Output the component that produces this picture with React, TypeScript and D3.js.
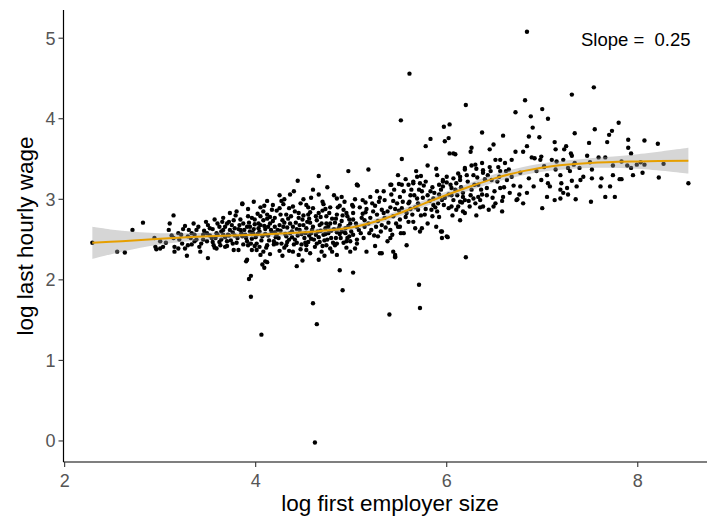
import * as d3 from "d3";

type Pt = [number, number];

// log first employer size, log last hourly wage
const outliers: Pt[] = [
  [3.5, 2.27], [3.9, 2.23], [3.95, 2.05], [3.93, 2.01], [3.95, 1.79], [4.06, 1.32], [4.07, 2.19],
  [4.09, 2.15], [4.12, 2.22], [4.43, 2.17], [4.49, 2.24], [4.66, 2.25], [4.6, 1.71], [4.64, 1.45],
  [4.62, -0.02], [4.88, 2.12], [4.91, 1.87], [5.02, 2.09], [5.4, 1.57], [5.46, 2.28], [5.71, 1.94],
  [5.72, 1.65], [6.2, 2.28], [6.84, 5.08], [5.61, 4.56], [6.2, 4.17], [5.52, 3.98], [5.97, 3.9],
  [6.03, 3.93], [6.82, 4.23], [6.72, 4.08], [6.88, 4.03], [7.0, 4.12], [7.06, 4.0], [7.31, 4.3],
  [7.54, 4.39], [7.8, 3.95], [8.53, 3.2], [2.29, 2.46], [2.55, 2.35], [2.63, 2.34], [2.71, 2.62],
  [2.82, 2.71], [5.3, 2.33], [5.46, 2.31], [5.72, 2.6], [5.95, 2.52], [5.89, 2.66],
];

const leftCloud: Pt[] = [
  [2.94, 2.52], [2.95, 2.41], [2.96, 2.38], [3.0, 2.48], [3.03, 2.41], [3.09, 2.62], [3.1, 2.7],
  [3.14, 2.8], [3.14, 2.52], [3.15, 2.41], [3.15, 2.35], [3.19, 2.58], [3.23, 2.45], [3.26, 2.67],
  [3.28, 2.3], [3.29, 2.43], [3.33, 2.58], [3.36, 2.48], [3.38, 2.62], [3.41, 2.41], [3.45, 2.56],
  [3.49, 2.48], [3.52, 2.64], [3.56, 2.43], [3.57, 2.75], [3.59, 2.58], [3.62, 2.66], [3.64, 2.5],
  [3.66, 2.77], [3.68, 2.41], [3.7, 2.7], [3.71, 2.56], [3.73, 2.83], [3.76, 2.45], [3.78, 2.64],
  [3.8, 2.85], [3.82, 2.37], [3.84, 2.75], [3.86, 2.94], [3.86, 2.54], [3.91, 2.66], [3.92, 2.43],
  [3.96, 2.77], [3.97, 2.58], [4.01, 2.37], [4.03, 2.7], [3.77, 2.37], [3.59, 2.39], [3.42, 2.35],
  [3.19, 2.39], [3.63, 2.43], [3.66, 2.56], [3.49, 2.58], [3.38, 2.5], [3.29, 2.54], [3.54, 2.52],
  [3.7, 2.48], [3.84, 2.62], [3.73, 2.62], [3.26, 2.39], [3.0, 2.39], [3.6, 2.7], [3.62, 2.47],
  [3.66, 2.62], [3.68, 2.53], [3.72, 2.72], [3.74, 2.49], [3.76, 2.59], [3.79, 2.8], [3.81, 2.52],
  [3.83, 2.68], [3.4, 2.66], [3.43, 2.45], [3.46, 2.61], [3.48, 2.72], [3.52, 2.55], [3.55, 2.63],
  [3.57, 2.4], [3.3, 2.62], [3.33, 2.44], [3.35, 2.7], [3.2, 2.5], [3.24, 2.63], [3.12, 2.55],
  [3.06, 2.46], [3.45, 2.5], [3.5, 2.68], [3.58, 2.52], [3.64, 2.6], [3.7, 2.42], [3.75, 2.68],
  [3.78, 2.55], [3.8, 2.46], [3.85, 2.58], [3.87, 2.44], [3.65, 2.72], [3.55, 2.47], [3.6, 2.56],
  [3.68, 2.66], [3.72, 2.55], [3.82, 2.63], [3.77, 2.74], [3.36, 2.56], [3.32, 2.52], [3.22, 2.56],
];

const coreCloud: Pt[] = [
  [4.66, 3.29], [4.44, 3.23], [4.97, 3.35], [5.06, 3.18], [3.86, 2.95], [4.36, 3.06], [4.5, 3.0],
  [4.66, 3.06], [4.85, 3.01], [4.9, 3.03], [4.29, 2.94], [4.39, 2.91], [4.25, 2.89], [4.17, 2.87],
  [4.08, 2.85], [4.12, 2.81], [4.05, 2.79], [4.53, 2.93], [4.6, 2.89], [4.71, 2.94], [4.78, 2.9],
  [4.88, 2.92], [5.02, 2.91], [3.92, 2.79], [3.99, 2.75], [3.87, 2.7], [4.2, 2.77], [4.32, 2.81],
  [4.45, 2.83], [4.55, 2.81], [4.66, 2.83], [4.74, 2.79], [4.85, 2.81], [4.95, 2.83], [3.94, 2.66],
  [4.05, 2.68], [4.15, 2.7], [4.25, 2.68], [4.36, 2.7], [4.46, 2.68], [4.57, 2.71], [4.67, 2.68],
  [4.78, 2.7], [4.88, 2.68], [4.99, 2.7], [3.89, 2.56], [3.97, 2.58], [4.1, 2.57], [4.22, 2.56],
  [4.52, 2.58], [4.73, 2.57], [4.94, 2.58], [3.91, 2.48], [4.01, 2.45], [4.12, 2.43], [4.22, 2.45],
  [4.32, 2.43], [4.43, 2.46], [4.53, 2.43], [4.64, 2.45], [4.74, 2.43], [4.85, 2.45], [4.95, 2.48],
  [5.06, 2.5], [3.96, 2.37], [4.08, 2.35], [4.25, 2.36], [4.39, 2.35], [4.53, 2.37], [4.69, 2.35],
  [4.85, 2.31], [4.99, 2.35], [3.91, 2.25], [4.1, 2.23], [3.88, 2.62], [3.9, 2.52], [3.93, 2.71],
  [3.95, 2.45], [3.98, 2.63], [4.0, 2.53], [4.02, 2.82], [4.04, 2.6], [4.06, 2.49], [4.08, 2.74],
  [4.1, 2.63], [4.11, 2.4], [4.13, 2.55], [4.15, 2.78], [4.17, 2.59], [4.19, 2.48], [4.2, 2.66],
  [4.22, 2.86], [4.24, 2.52], [4.26, 2.61], [4.28, 2.74], [4.3, 2.4], [4.31, 2.57], [4.33, 2.65],
  [4.35, 2.5], [4.37, 2.79], [4.38, 2.6], [4.4, 2.44], [4.42, 2.71], [4.44, 2.55], [4.46, 2.62],
  [4.47, 2.38], [4.49, 2.75], [4.51, 2.52], [4.53, 2.64], [4.55, 2.47], [4.57, 2.84], [4.58, 2.58],
  [4.6, 2.66], [4.62, 2.41], [4.64, 2.74], [4.66, 2.53], [4.68, 2.61], [4.7, 2.86], [4.72, 2.49],
  [4.74, 2.7], [4.76, 2.58], [4.78, 2.39], [4.8, 2.76], [4.82, 2.63], [4.84, 2.52], [4.86, 2.9],
  [4.88, 2.57], [4.9, 2.73], [4.92, 2.46], [4.94, 2.64], [4.96, 2.79], [4.98, 2.54], [5.0, 2.6],
  [4.05, 2.9], [4.18, 2.93], [4.27, 2.98], [4.35, 2.89], [4.47, 2.95], [4.58, 3.02], [4.7, 2.97],
  [4.82, 3.05], [4.93, 2.97], [4.4, 3.1], [4.25, 3.05], [4.12, 2.98], [4.6, 3.12], [4.75, 3.15],
  [3.98, 2.97], [3.92, 2.88], [4.15, 2.32], [4.28, 2.3], [4.45, 2.31], [4.57, 2.33], [4.72, 2.3],
  [4.8, 2.35], [4.95, 2.4], [4.35, 2.36], [4.05, 2.31], [3.99, 2.42], [4.03, 2.64], [4.07, 2.54],
  [4.09, 2.67], [4.14, 2.49], [4.16, 2.62], [4.18, 2.73], [4.21, 2.53], [4.23, 2.62], [4.27, 2.45],
  [4.29, 2.66], [4.32, 2.54], [4.34, 2.76], [4.36, 2.58], [4.39, 2.66], [4.41, 2.5], [4.43, 2.63],
  [4.45, 2.77], [4.48, 2.57], [4.5, 2.68], [4.52, 2.46], [4.54, 2.72], [4.56, 2.55], [4.59, 2.62],
  [4.61, 2.5], [4.63, 2.79], [4.65, 2.6], [4.67, 2.47], [4.69, 2.7], [4.71, 2.56], [4.73, 2.64],
  [4.75, 2.5], [4.77, 2.83], [4.79, 2.61], [4.81, 2.46], [4.83, 2.71], [4.85, 2.59], [4.87, 2.64],
  [4.89, 2.52], [4.91, 2.8], [4.93, 2.59], [4.97, 2.67], [4.99, 2.48], [3.94, 2.6], [3.96, 2.51],
  [3.99, 2.69], [4.02, 2.57], [4.04, 2.41], [4.13, 2.66], [4.19, 2.44], [4.26, 2.81], [4.33, 2.47],
  [4.41, 2.85], [4.48, 2.44], [4.56, 2.76], [4.63, 2.56], [4.7, 2.42], [4.76, 2.66], [4.83, 2.43],
  [4.9, 2.6], [4.96, 2.52], [4.12, 2.76], [4.3, 2.71], [4.5, 2.8], [4.68, 2.78], [4.84, 2.76],
  [4.98, 2.75], [4.2, 2.59], [4.38, 2.53], [4.58, 2.51], [4.79, 2.52], [4.09, 2.92], [4.3, 3.0],
  [4.55, 2.9], [4.73, 2.88], [4.92, 2.87],
];

const midCloud: Pt[] = [
  [5.83, 3.75], [5.78, 3.66], [6.09, 3.56], [5.53, 3.5], [5.18, 3.37], [5.49, 3.3], [5.69, 3.28],
  [5.73, 3.29], [5.9, 3.3], [5.96, 3.24], [5.06, 3.18], [5.27, 3.1], [5.41, 3.18], [5.5, 3.19],
  [5.6, 3.18], [5.65, 3.22], [5.72, 3.2], [5.78, 3.22], [5.63, 3.12], [5.74, 3.1], [5.83, 3.1],
  [5.92, 3.18], [6.0, 3.21], [6.05, 3.14], [6.14, 3.24], [6.19, 3.37], [6.17, 3.03], [6.02, 3.06],
  [5.95, 2.99], [5.86, 3.01], [5.86, 2.93], [5.97, 2.93], [6.05, 2.91], [6.1, 2.87], [6.14, 2.97],
  [5.69, 3.01], [5.61, 2.97], [5.51, 3.03], [5.42, 3.06], [5.35, 2.99], [5.34, 3.1], [5.2, 3.03],
  [5.12, 2.99], [5.04, 3.0], [5.01, 2.93], [5.09, 2.9], [5.16, 2.88], [5.15, 2.84], [5.25, 2.92],
  [5.32, 2.87], [5.41, 2.9], [5.48, 2.95], [5.53, 2.89], [5.62, 2.88], [5.7, 2.87], [5.77, 2.81],
  [5.85, 2.79], [5.92, 2.78], [5.02, 2.83], [5.02, 2.75], [5.11, 2.77], [5.2, 2.77], [5.27, 2.81],
  [5.35, 2.77], [5.44, 2.79], [5.51, 2.75], [5.6, 2.72], [5.67, 2.64], [5.74, 2.64], [5.94, 2.6],
  [6.0, 2.54], [5.06, 2.66], [5.14, 2.66], [5.21, 2.62], [5.32, 2.68], [5.41, 2.62], [5.49, 2.66],
  [5.55, 2.58], [5.02, 2.56], [5.13, 2.52], [5.28, 2.54], [5.41, 2.52], [5.04, 2.39], [5.16, 2.35],
  [5.32, 2.33], [5.44, 2.35], [5.46, 2.29], [5.58, 2.43], [5.07, 3.17], [5.42, 3.18], [5.53, 3.18],
  [5.65, 3.2], [5.76, 3.17], [5.96, 3.22], [5.05, 2.7], [5.1, 2.58], [5.12, 2.82], [5.18, 2.7],
  [5.22, 2.95], [5.24, 2.55], [5.28, 2.73], [5.3, 3.02], [5.36, 2.65], [5.38, 2.85], [5.44, 2.98],
  [5.47, 2.7], [5.5, 2.86], [5.55, 3.1], [5.57, 2.78], [5.6, 2.95], [5.64, 2.81], [5.66, 3.05],
  [5.7, 2.95], [5.75, 3.02], [5.78, 2.88], [5.82, 2.98], [5.85, 3.15], [5.88, 2.9], [5.92, 3.06],
  [5.06, 2.45], [5.25, 2.42], [5.38, 2.48], [5.52, 2.58], [5.65, 2.72], [5.8, 2.7], [5.9, 2.85],
  [5.98, 3.72], [6.02, 3.76], [6.07, 3.57], [6.03, 3.57], [5.08, 2.62], [5.14, 2.74], [5.19, 2.58],
  [5.23, 2.85], [5.26, 2.66], [5.31, 2.6], [5.34, 2.83], [5.39, 2.71], [5.43, 2.56], [5.46, 2.88],
  [5.51, 2.66], [5.54, 2.97], [5.58, 2.83], [5.62, 3.05], [5.67, 2.9], [5.71, 3.12], [5.73, 2.8],
  [5.8, 3.05], [5.84, 2.87], [5.87, 3.08], [5.91, 2.95], [5.94, 3.12], [5.98, 3.02], [5.15, 2.96],
  [5.29, 2.97], [5.45, 3.12], [5.57, 3.25], [5.68, 3.35], [5.8, 3.42], [5.89, 3.38],
];

const rightCloud: Pt[] = [
  [6.37, 3.83], [6.9, 3.89], [6.86, 3.78], [6.97, 3.77], [6.59, 3.79], [7.34, 3.82], [7.55, 3.87],
  [7.7, 3.8], [7.73, 3.85], [7.49, 3.7], [7.68, 3.71], [7.9, 3.74], [8.07, 3.73], [8.21, 3.69],
  [7.9, 3.64], [7.93, 3.57], [8.27, 3.44], [8.22, 3.27], [8.05, 3.33], [7.95, 3.3], [7.83, 3.25],
  [7.81, 3.25], [7.99, 3.43], [8.07, 3.43], [8.03, 3.46], [7.93, 3.39], [7.89, 3.42], [7.83, 3.47],
  [7.74, 3.42], [7.74, 3.3], [7.66, 3.52], [7.59, 3.52], [7.5, 3.46], [7.47, 3.54], [7.62, 3.26],
  [7.52, 3.26], [7.43, 3.28], [7.52, 3.37], [7.66, 3.03], [7.76, 3.03], [7.71, 3.16], [7.61, 3.16],
  [7.51, 2.97], [7.36, 3.16], [7.39, 3.39], [7.3, 3.57], [7.25, 3.66], [7.23, 3.62], [7.31, 3.54],
  [7.33, 3.43], [7.27, 3.39], [7.13, 3.71], [7.14, 3.62], [7.1, 3.49], [7.14, 3.37], [7.19, 3.3],
  [7.31, 3.23], [7.4, 3.24], [7.26, 3.14], [7.27, 3.06], [7.19, 3.01], [7.13, 2.99], [7.05, 3.03],
  [7.0, 2.89], [7.08, 3.16], [6.99, 3.24], [6.94, 3.35], [7.02, 3.4], [6.98, 3.49], [6.89, 3.52],
  [6.8, 3.59], [6.84, 3.66], [6.72, 3.59], [6.68, 3.49], [6.61, 3.45], [6.54, 3.4], [6.51, 3.49],
  [6.49, 3.68], [6.45, 3.62], [6.26, 3.64], [6.25, 3.59], [6.77, 3.33], [6.86, 3.26], [6.77, 3.16],
  [6.7, 3.17], [6.63, 3.24], [6.56, 3.14], [6.59, 3.03], [6.74, 3.0], [6.84, 3.08], [6.91, 3.16],
  [7.06, 3.2], [6.58, 2.85], [6.49, 2.91], [6.44, 2.87], [6.35, 2.99], [6.31, 2.8], [6.19, 2.83],
  [6.12, 2.91], [6.01, 2.53], [5.95, 2.6], [6.37, 3.06], [6.42, 3.14], [6.47, 3.24], [6.38, 3.33],
  [6.31, 3.38], [6.26, 3.42], [6.19, 3.39], [6.14, 3.28], [6.07, 3.26], [6.0, 3.28], [5.96, 3.16],
  [6.09, 3.12], [6.17, 3.08], [6.26, 3.12], [6.28, 3.01], [6.07, 2.99], [6.02, 2.89], [6.56, 3.35],
  [6.65, 3.37], [6.68, 3.28], [6.45, 3.4], [6.37, 3.45], [7.05, 3.3], [7.2, 3.2], [7.22, 3.08],
  [7.29, 3.35], [7.34, 3.45], [6.56, 3.49], [6.3, 3.43], [6.38, 3.36], [6.92, 3.51], [6.99, 3.53],
  [7.02, 3.41], [7.15, 3.47], [7.22, 3.49], [7.19, 3.12], [7.35, 3.0], [6.76, 3.06], [6.33, 3.03],
  [6.19, 2.99], [6.24, 2.91], [6.3, 2.95], [6.38, 2.91], [6.51, 2.95], [6.17, 2.85], [6.73, 2.99],
  [6.8, 2.95], [6.05, 3.05], [6.1, 3.2], [6.12, 3.32], [6.16, 2.96], [6.22, 3.22], [6.25, 3.05],
  [6.28, 3.3], [6.33, 3.18], [6.35, 2.9], [6.4, 3.25], [6.42, 3.05], [6.46, 3.35], [6.5, 3.1],
  [6.53, 3.22], [6.58, 2.98], [6.62, 3.35], [6.66, 3.08], [6.06, 2.8], [6.14, 2.74], [6.04, 3.18],
  [6.11, 3.05], [6.15, 3.15], [6.21, 3.3], [6.23, 2.98], [6.29, 3.18], [6.32, 3.27], [6.36, 3.12],
  [6.43, 3.3], [6.48, 3.02], [6.55, 3.28], [6.6, 3.15],
];

// loess fit with its standard-error band
const smoothX = [2.29, 2.6, 3.0, 3.5, 4.0, 4.5, 5.0, 5.3, 5.6, 5.9, 6.2, 6.5, 6.8, 7.1, 7.5, 8.0, 8.53];
const smoothY = [2.46, 2.48, 2.51, 2.54, 2.56, 2.59, 2.65, 2.74, 2.87, 3.01, 3.14, 3.26, 3.35, 3.41, 3.45, 3.47, 3.48];
const smoothSe = [0.2, 0.13, 0.07, 0.045, 0.035, 0.035, 0.035, 0.038, 0.04, 0.043, 0.045, 0.05, 0.05, 0.052, 0.06, 0.09, 0.16];

const xTicks = [2, 4, 6, 8];
const yTicks = [0, 1, 2, 3, 4, 5];

export default function App() {
  const width = 707;
  const height = 518;
  const left = 63.5;
  const bottom = 462;

  const x = d3.scaleLinear().domain([1.988, 8.84]).range([left, 718]);
  const y = d3.scaleLinear().domain([-0.255, 5.35]).range([461.5, 10]);

  const points = [...leftCloud, ...coreCloud, ...midCloud, ...rightCloud, ...outliers];

  const fit = smoothX.map((v, i) => ({ x: v, y: smoothY[i], se: smoothSe[i] }));

  const line = d3
    .line<(typeof fit)[number]>()
    .curve(d3.curveCatmullRom)
    .x((d) => x(d.x))
    .y((d) => y(d.y));

  const band = d3
    .area<(typeof fit)[number]>()
    .curve(d3.curveCatmullRom)
    .x((d) => x(d.x))
    .y0((d) => y(d.y - d.se))
    .y1((d) => y(d.y + d.se));

  const font = "'Liberation Sans', Arial, sans-serif";

  return (
    <svg
      width={width}
      height={height}
      style={{ position: "absolute", left: 0, top: 0, background: "#fff" }}
      fontFamily={font}
    >
      {/* points */}
      {points.map((d, i) => (
        <circle key={i} cx={x(d[0])} cy={y(d[1])} r={2.2} fill="#000" />
      ))}

      {/* confidence band + smooth */}
      <path d={band(fit) ?? ""} fill="#999999" fillOpacity={0.4} />
      <path d={line(fit) ?? ""} fill="none" stroke="#E69F00" strokeWidth={2} />

      {/* axes */}
      <line x1={left} x2={left} y1={10} y2={bottom} stroke="#000" strokeWidth={1.2} />
      <line x1={left} x2={width} y1={bottom} y2={bottom} stroke="#000" strokeWidth={1.2} />

      {yTicks.map((t) => (
        <g key={t} transform={`translate(0,${y(t)})`}>
          <line x1={left - 5} x2={left} stroke="#333" strokeWidth={1.1} />
          <text x={left - 8} dy="0.36em" textAnchor="end" fontSize={18} fill="#555">
            {t}
          </text>
        </g>
      ))}
      {xTicks.map((t) => (
        <g key={t} transform={`translate(${x(t)},0)`}>
          <line y1={bottom} y2={bottom + 5} stroke="#333" strokeWidth={1.1} />
          <text y={487} textAnchor="middle" fontSize={18} fill="#555">
            {t}
          </text>
        </g>
      ))}

      <text x={390} y={511} textAnchor="middle" fontSize={22.5} fill="#000">
        log first employer size
      </text>
      <text
        transform={`translate(33,236) rotate(-90)`}
        textAnchor="middle"
        fontSize={22.5}
        fill="#000"
      >
        log last hourly wage
      </text>

      <text x={581} y={46} fontSize={18.5} fill="#000" style={{ whiteSpace: "pre" }}>
        {"Slope =  0.25"}
      </text>
    </svg>
  );
}
